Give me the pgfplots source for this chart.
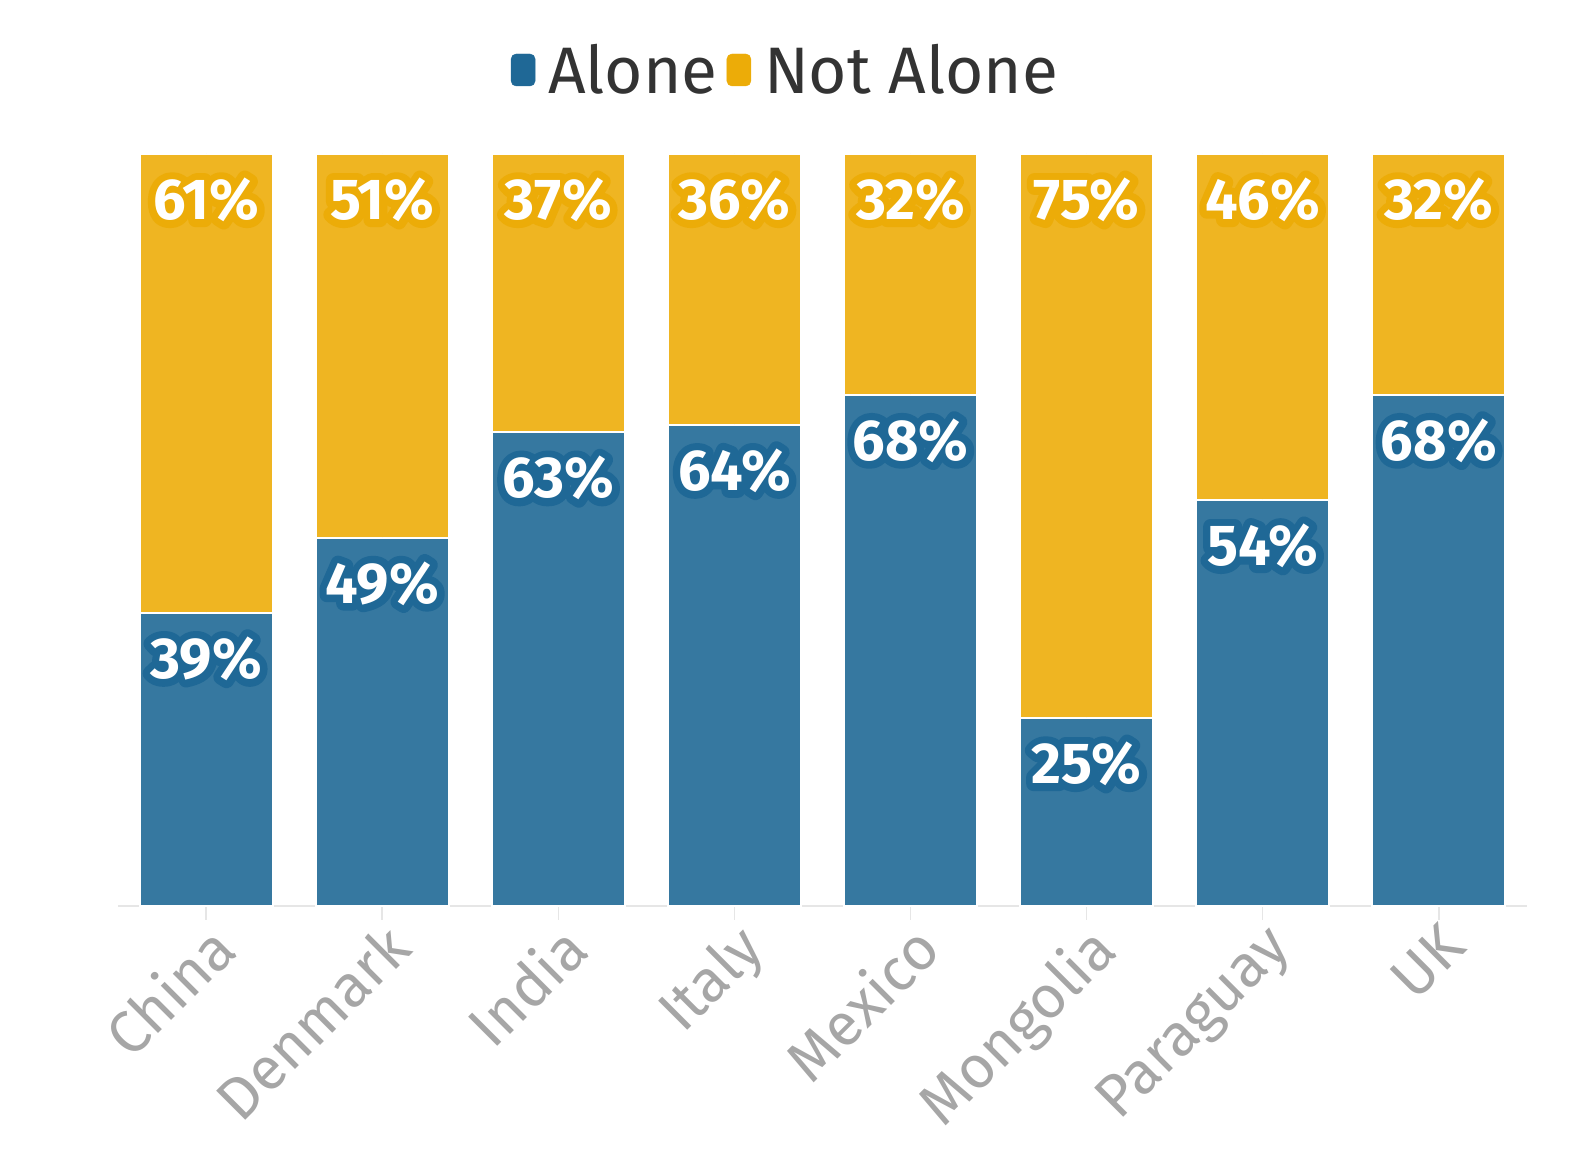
\documentclass[border=0pt]{standalone}
\usepackage{pgfplots}
\usepackage{pgfplotstable}
\pgfplotsset{compat=1.18}
\usepackage{fontspec}
\setmainfont{Fira Sans}
\definecolor{aloneBar}{RGB}{54,120,160}
\definecolor{notBar}{RGB}{239,181,34}
\definecolor{aloneDark}{RGB}{31,104,150}
\definecolor{notDark}{RGB}{236,172,8}
\definecolor{legText}{RGB}{51,51,51}
\definecolor{tickText}{RGB}{166,166,166}
\definecolor{axisCol}{RGB}{230,230,230}

% halo: the text stroked wide in the dark colour, then the white text over it
\newcommand\halotext[2]{%
  \begingroup\setbox0\hbox{#2}%
  \rlap{\textcolor{#1}{\special{pdf:code 2 Tr 15 w 1 j 1 J}\copy0\special{pdf:code 0 Tr 1 w 0 j 0 J}}}%
  \copy0\endgroup}

\pgfplotstableread{
x a n t
0 39 61 100
1 49 51 100
2 63 37 100
3 64 36 100
4 68 32 100
5 25 75 100
6 54 46 100
7 68 32 100
}\data

\pgfplotsset{
  base/.style={scale only axis, width=1409bp, height=752bp,
    xmin=-0.5, xmax=7.5, ymin=0, ymax=100, enlargelimits=false, clip=false},
  lbl/.style={only marks, mark=*, mark size=0pt, mark options={draw=none, fill=none},
    point meta=explicit symbolic,
    nodes near coords={\halotext{#1}{\pgfplotspointmeta\%}},
    every node near coord/.style={anchor=center, yshift=-46bp, text=white,
      font=\fontsize{58}{58}\selectfont\bfseries, inner sep=0pt}},
}

\begin{document}
\begin{tikzpicture}
\useasboundingbox (-118bp,-244bp) rectangle (1474bp,906bp);
\begin{axis}[base,
  ybar stacked, bar width=133bp,
  axis y line=none, ytick=\empty,
  axis x line*=bottom,
  x axis line style={draw=axisCol, line width=1.5bp, -},
  xtick={0,...,7},
  xticklabels={China,Denmark,India,Italy,Mexico,Mongolia,Paraguay,UK},
  xtick style={draw=axisCol, line width=1.5bp},
  xtick align=outside, major tick length=14bp,
  xticklabel style={rotate=45, anchor=north east, font=\fontsize{60}{60}\selectfont, text=tickText, inner sep=0pt},
  legend style={at={(0.473,1)}, anchor=center, yshift=84bp, draw=none, fill=none,
    legend columns=-1, font=\fontsize{66}{66}\selectfont, text=legText,
    nodes={inner sep=0pt},
    /tikz/every odd column/.append style={column sep=13bp},
    /tikz/every even column/.append style={column sep=9bp}},
]
\addplot[forget plot, fill=aloneBar, draw=white, line width=2bp]
  table[x=x, y=a] {\data};
\addplot[forget plot, fill=notBar, draw=white, line width=2bp]
  table[x=x, y=n] {\data};
\addlegendimage{legend image code/.code={\fill[aloneDark, rounded corners=5bp] (0bp,-16bp) rectangle (24bp,16bp);}}
\addlegendentry{Alone}
\addlegendimage{legend image code/.code={\fill[notDark, rounded corners=5bp] (0bp,-16bp) rectangle (24bp,16bp);}}
\addlegendentry{Not Alone}
\end{axis}
\begin{axis}[base, hide axis]
\addplot[lbl=aloneDark] table[x=x, y=a, meta=a] {\data};
\addplot[lbl=notDark] table[x=x, y=t, meta=n] {\data};
\end{axis}
\end{tikzpicture}
\end{document}
